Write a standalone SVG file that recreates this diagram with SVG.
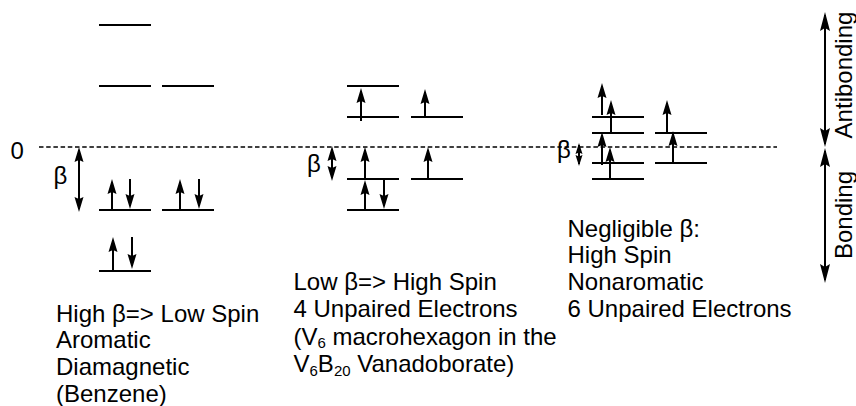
<svg xmlns="http://www.w3.org/2000/svg" width="856" height="406" viewBox="0 0 856 406">
<style>
.lv{stroke:#000;stroke-width:2;fill:none}
.e{stroke:#000;stroke-width:2;fill:none;marker-end:url(#ah)}
.d{stroke:#000;stroke-width:2;fill:none;marker-start:url(#ah);marker-end:url(#ah)}
.ds{stroke:#000;stroke-width:2;fill:none;marker-start:url(#ahs);marker-end:url(#ahs)}
.dl{stroke:#000;stroke-width:2;fill:none;marker-start:url(#ahl);marker-end:url(#ahl)}
.zero{stroke:#000;stroke-width:1.3;stroke-dasharray:4.5 2.7;fill:none}
text{font-family:"Liberation Sans",Arial,sans-serif;font-size:24px;fill:#000}
.sub{font-size:15px}
</style>
<defs>
<marker id="ah" markerUnits="userSpaceOnUse" markerWidth="16" markerHeight="10" viewBox="0 -5 16 10" refX="12" refY="0" orient="auto-start-reverse">
<path d="M15,0 L0,-4.5 L2,0 L0,4.5 Z" fill="#000"/>
</marker>
<marker id="ahs" markerUnits="userSpaceOnUse" markerWidth="12" markerHeight="8" viewBox="0 -4 12 8" refX="9" refY="0" orient="auto-start-reverse">
<path d="M11,0 L0,-3.5 L1.5,0 L0,3.5 Z" fill="#000"/>
</marker>
<marker id="ahl" markerUnits="userSpaceOnUse" markerWidth="20" markerHeight="12" viewBox="0 -6 20 12" refX="16" refY="0" orient="auto-start-reverse">
<path d="M19,0 L0,-5 L3,0 L0,5 Z" fill="#000"/>
</marker>
</defs>

<g id="zero-line">
<line class="zero" x1="39" y1="147" x2="777" y2="147"/>
<text x="10.5" y="158.5">0</text>
</g>

<g id="benzene">
<line class="lv" x1="99" y1="25" x2="151" y2="25"/>
<line class="lv" x1="99" y1="86" x2="151" y2="86"/>
<line class="lv" x1="162" y1="86" x2="214" y2="86"/>
<line class="lv" x1="99" y1="210" x2="151" y2="210"/>
<line class="lv" x1="162" y1="210" x2="214" y2="210"/>
<line class="lv" x1="99" y1="271" x2="151" y2="271"/>
<line class="e" x1="112" y1="211" x2="112" y2="182"/>
<line class="e" x1="130" y1="179" x2="130" y2="206"/>
<line class="e" x1="180" y1="211" x2="180" y2="182"/>
<line class="e" x1="199" y1="179" x2="199" y2="206"/>
<line class="e" x1="113" y1="272" x2="113" y2="240"/>
<line class="e" x1="132" y1="237" x2="132" y2="266"/>
<line class="d" x1="79" y1="150" x2="79" y2="209"/>
<text x="53.5" y="184">β</text>
<text x="56" y="321.7">High β=&gt; Low Spin</text>
<text x="56" y="348.3">Aromatic</text>
<text x="56" y="375">Diamagnetic</text>
<text x="56" y="401.7">(Benzene)</text>
</g>

<g id="vanadoborate">
<line class="lv" x1="347" y1="86" x2="399" y2="86"/>
<line class="lv" x1="347" y1="117" x2="399" y2="117"/>
<line class="lv" x1="411" y1="117" x2="463" y2="117"/>
<line class="lv" x1="347" y1="179" x2="399" y2="179"/>
<line class="lv" x1="411" y1="179" x2="463" y2="179"/>
<line class="lv" x1="347" y1="210" x2="399" y2="210"/>
<line class="e" x1="361" y1="121" x2="361" y2="91"/>
<line class="e" x1="425" y1="118" x2="425" y2="92"/>
<line class="e" x1="365" y1="179" x2="365" y2="150"/>
<line class="e" x1="365" y1="211" x2="365" y2="183"/>
<line class="e" x1="384" y1="179" x2="384" y2="206"/>
<line class="e" x1="428" y1="179" x2="428" y2="150"/>
<line class="d" x1="332" y1="149" x2="332" y2="178"/>
<text x="307" y="172">β</text>
<text x="293.5" y="290">Low β=&gt; High Spin</text>
<text x="293.5" y="317">4 Unpaired Electrons</text>
<text x="293.5" y="344.5">(V<tspan class="sub" dy="3.5">6</tspan><tspan dy="-3.5"> macrohexagon in the</tspan></text>
<text x="293.5" y="372">V<tspan class="sub" dy="3.5">6</tspan><tspan dy="-3.5">B</tspan><tspan class="sub" dy="3.5">20</tspan><tspan dy="-3.5"> Vanadoborate)</tspan></text>
</g>

<g id="nonaromatic">
<line class="lv" x1="592" y1="117" x2="644" y2="117"/>
<line class="lv" x1="592" y1="133" x2="644" y2="133"/>
<line class="lv" x1="655" y1="133" x2="707" y2="133"/>
<line class="lv" x1="592" y1="163" x2="644" y2="163"/>
<line class="lv" x1="655" y1="163" x2="707" y2="163"/>
<line class="lv" x1="592" y1="179" x2="644" y2="179"/>
<line class="e" x1="602" y1="115" x2="602" y2="86"/>
<line class="e" x1="611" y1="133" x2="611" y2="103"/>
<line class="e" x1="602" y1="165" x2="602" y2="135"/>
<line class="e" x1="610" y1="179" x2="610" y2="150"/>
<line class="e" x1="667" y1="133" x2="667" y2="103"/>
<line class="e" x1="673" y1="163" x2="673" y2="134"/>
<line class="ds" x1="579" y1="145" x2="579" y2="164"/>
<text x="557" y="157.5">β</text>
<text x="567.5" y="236.7">Negligible β:</text>
<text x="567.5" y="263.3">High Spin</text>
<text x="567.5" y="290">Nonaromatic</text>
<text x="567.5" y="317.3">6 Unpaired Electrons</text>
</g>

<g id="axis">
<line class="dl" x1="825" y1="15" x2="825" y2="144"/>
<line class="dl" x1="825" y1="151" x2="825" y2="280"/>
<text transform="translate(851.5,75) rotate(-90)" text-anchor="middle">Antibonding</text>
<text transform="translate(851.5,215) rotate(-90)" text-anchor="middle">Bonding</text>
</g>
</svg>
